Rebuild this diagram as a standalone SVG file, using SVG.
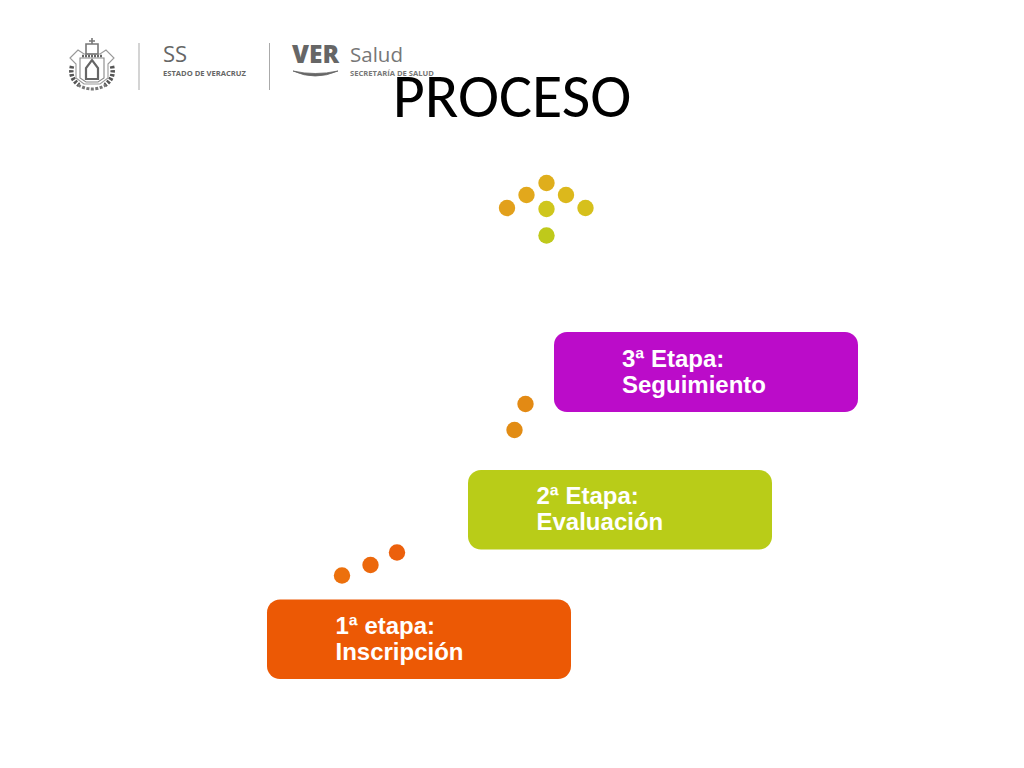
<svg xmlns="http://www.w3.org/2000/svg" width="1024" height="768" viewBox="0 0 1024 768">
<style>
.box{stroke:none}
.lab{font-family:"Liberation Sans",Arial,sans-serif;font-size:24px;font-weight:bold;fill:#fff}
.g{fill:none;stroke:#777}
.lg{font-family:"Open Sans","Liberation Sans",sans-serif}
</style>
<rect width="1024" height="768" fill="#fff"/>
<g id="logo">
<g id="crest" class="g" stroke-width="1.1">
<path d="M70 58 L78 50 L84 54 L100 54 L106 50 L114 58 L108 64 L108 78 L100 84 L84 84 L76 78 L76 64 Z" stroke="#999"/>
<path d="M80 58 H104 V78 L98 82 H86 L80 78 Z" stroke="#888"/>
<path d="M86 44 H98 V54 H86 Z M92 38 V44 M89 41 H95" stroke="#777" stroke-width="1.6"/>
<path d="M82 56 H102" stroke="#666" stroke-width="2.5" stroke-dasharray="2 1"/>
<path d="M86 79 V68 L92 60 L98 68 V79 Z" stroke="#666" stroke-width="2.2"/>
<path d="M72 66 Q69 78 79 85 M112 66 Q115 78 105 85" stroke="#555" stroke-width="4.5" stroke-dasharray="2.500 1.500"/>
<path d="M78 85 Q92 93 106 85" stroke="#777" stroke-width="3" stroke-dasharray="3 1.500"/>
</g>
<rect x="138.500" y="43" width="1" height="47" fill="#aaa"/>
<text class="lg" x="163" y="62" font-size="22" fill="#666">SS</text>
<text class="lg" x="163" y="76" font-size="7.600" font-weight="bold" fill="#666">ESTADO DE VERACRUZ</text>
<rect x="269" y="43" width="1" height="47" fill="#aaa"/>
<text class="lg" x="292" y="63" font-size="24.500" font-weight="800" fill="#666">VER</text>
<path d="M293 71 Q315 81 338 71 Q315 76 293 71 Z" fill="#666" stroke="#666" stroke-width="0.800"/>
<text class="lg" x="350" y="62" font-size="20.500" fill="#777">Salud</text>
<text class="lg" x="350" y="76" font-size="7.600" font-weight="bold" fill="#777">SECRETARÍA DE SALUD</text>
</g>
<text id="title" x="512" y="117" text-anchor="middle" font-family="Carlito,'Open Sans','Liberation Sans',sans-serif" font-size="62" fill="#000">PROCESO</text>
<g id="dots-top">
<circle cx="507" cy="208" r="8.200" fill="#e2a01c"/>
<circle cx="526.500" cy="195" r="8.200" fill="#e2a81c"/>
<circle cx="546.500" cy="183" r="8.200" fill="#dfae1c"/>
<circle cx="566" cy="195" r="8.200" fill="#dcb81c"/>
<circle cx="585.500" cy="208" r="8.200" fill="#d6c01c"/>
<circle cx="546.500" cy="209" r="8.200" fill="#cfc61c"/>
<circle cx="546.500" cy="235.500" r="8.200" fill="#bfc91b"/>
</g>
<g id="dots-mid">
<circle cx="525.500" cy="404" r="8.200" fill="#e38a14"/>
<circle cx="514.500" cy="430" r="8.200" fill="#e28c14"/>
</g>
<g id="dots-low">
<circle cx="397" cy="552.500" r="8.200" fill="#ec600c"/>
<circle cx="370.500" cy="565" r="8.200" fill="#ec680c"/>
<circle cx="342" cy="575.500" r="8.200" fill="#ec700c"/>
</g>
<g id="node-3">
<rect class="box" x="554" y="332" width="304" height="80" rx="13" fill="#bb0cc9"/>
<text class="lab" x="622" y="367">3ª Etapa:</text>
<text class="lab" x="622" y="393">Seguimiento</text>
</g>
<g id="node-2">
<rect class="box" x="468" y="470" width="304" height="79.500" rx="13" fill="#b9cc18"/>
<text class="lab" x="536.500" y="504">2ª Etapa:</text>
<text class="lab" x="536.500" y="530">Evaluación</text>
</g>
<g id="node-1">
<rect class="box" x="267" y="599.500" width="304" height="79.500" rx="13" fill="#ec5905"/>
<text class="lab" x="335.500" y="634">1ª etapa:</text>
<text class="lab" x="335.500" y="660">Inscripción</text>
</g>
<g id="connectors"/>
</svg>
